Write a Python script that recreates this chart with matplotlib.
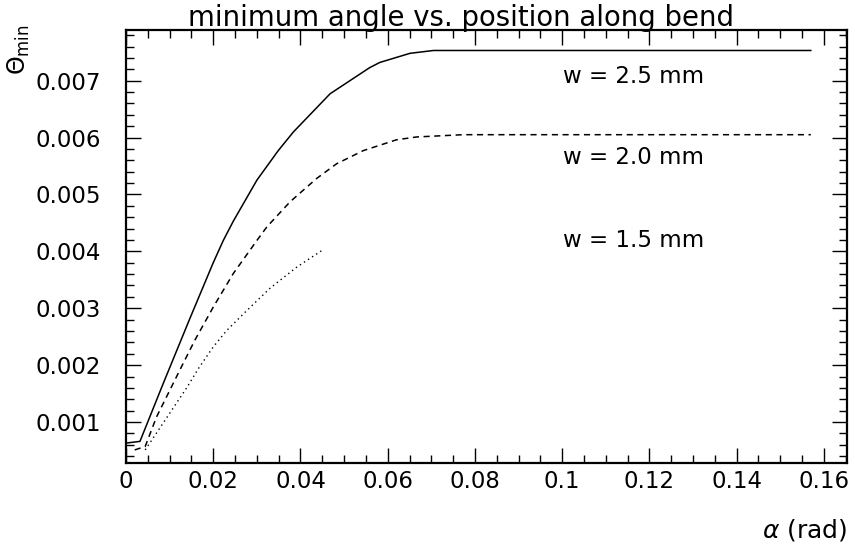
import matplotlib
matplotlib.use("Agg")
import matplotlib.pyplot as plt
from matplotlib.ticker import MultipleLocator, FixedFormatter, FixedLocator

# w = 2.5 mm (solid)
x_25 = [0.0, 0.0032, 0.0086, 0.0124, 0.0147, 0.0200, 0.0223, 0.0246, 0.0300,
        0.0349, 0.0384, 0.0468, 0.0559, 0.0582, 0.0651, 0.0705, 0.157]
y_25 = [0.00063, 0.00066, 0.00169, 0.00240, 0.00283, 0.00380, 0.00419, 0.00453, 0.00525,
        0.00577, 0.00610, 0.00677, 0.00723, 0.00732, 0.00748, 0.00753, 0.00753]

# w = 2.0 mm (dashed)
x_20 = [0.0020, 0.0044, 0.0070, 0.0131, 0.0158, 0.0200, 0.0246, 0.0300, 0.0323,
        0.0376, 0.0437, 0.0483, 0.0544, 0.0620, 0.0666, 0.0773, 0.157]
y_20 = [0.00051, 0.00057, 0.00109, 0.00203, 0.00244, 0.00302, 0.00361, 0.00419, 0.00443,
        0.00487, 0.00528, 0.00554, 0.00577, 0.00596, 0.00601, 0.00605, 0.00605]

# w = 1.5 mm (dotted)
x_15 = [0.0044, 0.0078, 0.0139, 0.0166, 0.0200, 0.0231, 0.0277, 0.0330, 0.0391, 0.0452]
y_15 = [0.00051, 0.00090, 0.00160, 0.00194, 0.00232, 0.00261, 0.00296, 0.00335, 0.00372, 0.00403]

labels = ["w = 2.5 mm", "w = 2.0 mm", "w = 1.5 mm"]
label_x = 0.1002
label_y = [0.00707, 0.00565, 0.00419]

xticks = [0, 0.02, 0.04, 0.06, 0.08, 0.1, 0.12, 0.14, 0.16]
xticklabels = ["0", "0.02", "0.04", "0.06", "0.08", "0.1", "0.12", "0.14", "0.16"]
yticks = [0.001, 0.002, 0.003, 0.004, 0.005, 0.006, 0.007]
yticklabels = ["0.001", "0.002", "0.003", "0.004", "0.005", "0.006", "0.007"]

fig = plt.figure(figsize=(8.55, 5.59), dpi=100)
ax = fig.add_axes([126/855, 1 - 463/559, (847-126)/855, (463-30)/559])

ax.plot(x_25, y_25, color="black", lw=1.1, ls="-")
ax.plot(x_20, y_20, color="black", lw=1.1, ls=(0, (4, 3)))
ax.plot(x_15, y_15, color="black", lw=1.0, ls=(0, (1, 2.5)))

for txt, yy in zip(labels, label_y):
    ax.text(label_x, yy, txt, fontsize=16.5, va="center", ha="left")

ax.set_xlim(0, 0.1653)
ax.set_ylim(0.00028, 0.00789)

ax.xaxis.set_major_locator(FixedLocator(xticks))
ax.xaxis.set_major_formatter(FixedFormatter(xticklabels))
ax.xaxis.set_minor_locator(MultipleLocator(0.005))
ax.yaxis.set_major_locator(FixedLocator(yticks))
ax.yaxis.set_major_formatter(FixedFormatter(yticklabels))
ax.yaxis.set_minor_locator(MultipleLocator(0.0002))

ax.tick_params(which="both", direction="in", top=True, right=True, width=1.0)
ax.tick_params(which="major", length=11, labelsize=16.5)
ax.tick_params(which="minor", length=6)
ax.tick_params(axis="y", which="major", pad=18)
ax.tick_params(axis="x", which="major", pad=5)
for s in ax.spines.values():
    s.set_linewidth(1.6)

fig.text(461/855, 1 - 26/559, "minimum angle vs. position along bend",
         fontsize=19.8, ha="center", va="baseline")
fig.text(19/855, 1 - 50/559, r"$\Theta_{\rm min}$", fontsize=17, rotation=90,
         ha="center", va="center")
fig.text(847/855, 1 - 530/559, r"$\alpha$ (rad)", fontsize=18, ha="right", va="center")

fig.savefig("out.png", dpi=100)
